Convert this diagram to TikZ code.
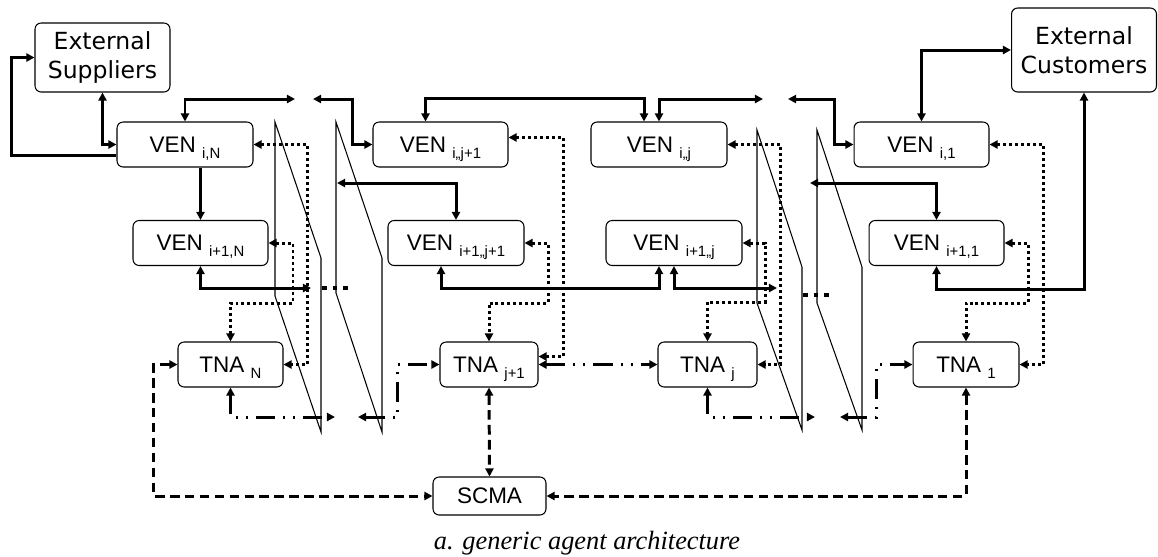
\documentclass[tikz,border=0pt]{standalone}
\usepackage{fontspec}
\setmainfont{Liberation Sans}
\newfontfamily\extfont{DejaVu Sans}
\newfontfamily\capfont{Liberation Serif}
\usetikzlibrary{arrows.meta,calc}
\newcommand{\sub}[1]{\raisebox{-3.4pt}[0pt][0pt]{\fontsize{8.5}{9}\selectfont #1}}

\begin{document}
\begin{tikzpicture}[x=0.02cm, y=-0.02cm, >={Triangle[length=4.6pt,width=4.6pt]},
    agent/.style={draw, rounded corners=3.5pt, line width=0.6pt, inner sep=0pt, minimum height=0.9cm, font=\fontsize{12.8}{14}\selectfont},
    outside/.style={agent, align=center, font=\extfont\fontsize{13.4}{16.4}\selectfont},
    material/.style={line width=1.7pt},
    info/.style={line width=1.7pt, dash pattern=on 1.7pt off 1.7pt},
    ctrl/.style={line width=1.7pt, dash pattern=on 5.5pt off 3pt},
    trans/.style={line width=1.7pt, dash pattern=on 11pt off 4.5pt on 1.2pt off 4.5pt on 1.2pt off 4.5pt},
    cut/.style={line width=0.6pt},
    gapmark/.style={line width=2.6pt, dash pattern=on 2.6pt off 3.4pt}]
     \useasboundingbox (0,0) rectangle (1158,556);

     \node[outside, minimum width=2.7cm, minimum height=1.38cm] (es) at (102.5,57.5) {External\\Suppliers};
     \node[outside, minimum width=2.9cm, minimum height=1.68cm] (ec) at (1084,50) {External\\Customers};

     \node[agent, minimum width=2.72cm] (venN) at (185,144.5) {VEN \sub{i,N}};
     \node[agent, minimum width=2.7cm] (venN1) at (200.5,243) {VEN \sub{i+1,N}};
     \node[agent, minimum width=2.7cm] (venJa) at (440.5,144.5) {VEN \sub{i,,j+1}};
     \node[agent, minimum width=2.72cm] (venJa1) at (456,243) {VEN \sub{i+1,,j+1}};
     \node[agent, minimum width=2.72cm] (venJ) at (659,144.5) {VEN \sub{i,,j}};
     \node[agent, minimum width=2.72cm] (venJ1) at (674,243) {VEN \sub{i+1,,j}};
     \node[agent, minimum width=2.7cm] (venOne) at (921.5,144.5) {VEN \sub{i,1}};
     \node[agent, minimum width=2.7cm] (venOne1) at (936.5,243) {VEN \sub{i+1,1}};

     \node[agent, minimum width=2.1cm] (tnaN) at (230.5,364.5) {TNA \sub{N}};
     \node[agent, minimum width=1.96cm] (tnaJa) at (489,364.5) {TNA \sub{j+1}};
     \node[agent, minimum width=1.98cm] (tnaJ) at (707.5,364.5) {TNA \sub{j}};
     \node[agent, minimum width=2.12cm] (tnaOne) at (966,364.5) {TNA \sub{1}};

     \node[agent, minimum width=2.26cm, minimum height=0.76cm] (scma) at (489.5,496) {SCMA};
     \node[font=\capfont\itshape\fontsize{15}{17}\selectfont] (caption) at (587,543) {a. generic agent architecture};

     \coordinate (topL) at (295,99);
     \coordinate (topR) at (313,99);
     \coordinate (midL) at (337,183);
     \coordinate (lowL) at (311,288);
     \coordinate (botL) at (335,417);
     \coordinate (botR) at (358,417);
     \coordinate (topL2) at (763,99);
     \coordinate (topR2) at (788,99);
     \coordinate (midL2) at (810,183);
     \coordinate (lowL2) at (777,288);
     \coordinate (botL2) at (815,417);
     \coordinate (botR2) at (840,417);

     \draw[cut] (275,122) -- (275,296) -- (321,432) -- (321,258) -- cycle;
     \draw[cut] (336,122) -- (336,293) -- (382,432) -- (382,258) -- cycle;
     \draw[cut] (757,130) -- (757,303) -- (802,430) -- (802,267) -- cycle;
     \draw[cut] (817,130) -- (817,303) -- (862,430) -- (862,267) -- cycle;
     \draw[gapmark] (322,288) -- (348,288);
     \draw[gapmark] (803,295) -- (829,295);

     \draw[material,<->] (es.south) |- (venN.west);
     \draw[material,->] ([yshift=-6pt]venN.west) -- ++(-105,0) |- (es.west);
     \draw[material,<->] (venN.north) |- (topL);
     \draw[material,<->] (topR) -| ($(venJa.west)+(-20,0)$) -- (venJa.west);
     \draw[material,->] (venN.south -| venN1.north) -- (venN1.north);
     \draw[material,<->] (venN1.south) |- (lowL);
     \draw[material,<->] (midL) -| (venJa1.north);
     \draw[material,<->] ($(venJa.north)+(-15,0)$) -- ++(0,-23) -| ($(venJ.north)+(-15,0)$);
     \draw[material,<->] (venJ.north) |- (topL2);
     \draw[material,<->] (topR2) -| ($(venOne.west)+(-19,0)$) -- (venOne.west);
     \draw[material,<->] (midL2) -| (venOne1.north);
     \draw[material,<->] ($(venJa1.south)+(-15,0)$) -- ++(0,22) -| ($(venJ1.south)+(-15,0)$);
     \draw[material,<->] (venJ1.south) |- (lowL2);
     \draw[material,<->] (venOne1.south) -- ++(0,23) -| (ec.south);
     \draw[material,<->] (venOne.north) |- (ec.west);

     \draw[info,<->] (venN.east) -| ($(tnaN.east)+(24,0)$) -- (tnaN.east);
     \draw[info,<->] (venN1.east) -| (293,303) -| (tnaN.north);
     \draw[info,<->] ([yshift=4pt]venJa.east) -| ($(tnaJa.east)+(25,-8)$) -- ($(tnaJa.east)+(0,-8)$);
     \draw[info,<->] (venJa1.east) -| (548,303) -| (tnaJa.north);
     \draw[info,<->] (venJ.east) -| ($(tnaJ.east)+(23,0)$) -- (tnaJ.east);
     \draw[info,<->] (venJ1.east) -| (765,302) -| (tnaJ.north);
     \draw[info,<->] (venOne.east) -| ($(tnaOne.east)+(24,0)$) -- (tnaOne.east);
     \draw[info,<->] (venOne1.east) -| (1028,303) -| (tnaOne.north);

     \draw[trans,<->] (tnaN.south) |- (botL);
     \draw[trans,<->] (botR) -| ($(tnaJa.west)+(-42,0)$) -- (tnaJa.west);
     \draw[trans,<->] (tnaJa.east) -- (tnaJ.west);
     \draw[trans,<->] (tnaJ.south) |- (botL2);
     \draw[trans,<->] (botR2) -| ($(tnaOne.west)+(-36,0)$) -- (tnaOne.west);

     \draw[ctrl,<->] (tnaN.west) -- ++(-24,0) |- (scma.west);
     \draw[ctrl,<->] (tnaJa.south) -- (scma.north);
     \draw[ctrl,<->] (tnaOne.south) |- (scma.east);
\end{tikzpicture}
\end{document}
